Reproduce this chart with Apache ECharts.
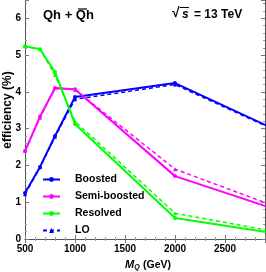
<!DOCTYPE html>
<html><head><meta charset="utf-8">
<script src="https://cdn.jsdelivr.net/npm/echarts@6/dist/echarts.min.js"></script>
<style>html,body{margin:0;padding:0;background:#fff}#c{width:266px;height:272px}</style>
</head><body><div id="c"></div>
<script>
var masses = [500, 650, 800, 1000, 2000, 3000];
var boosted = [1.25, 1.96, 2.8, 3.86, 4.24, 2.98];
var semiBoosted = [2.39, 3.33, 4.1, 4.07, 1.71, 0.81];
var resolved = [5.24, 5.16, 4.54, 3.13, 0.57, 0.15];
var boostedLO = [1.22, 1.95, 2.78, 3.8, 4.2, 2.96];
var semiBoostedLO = [2.4, 3.3, 4.12, 4.06, 1.9, 0.89];
var resolvedLO = [5.24, 5.16, 4.46, 3.2, 0.7, 0.2];
var xTicks = [500, 1000, 1500, 2000, 2500];
var yTicks = [0, 1, 2, 3, 4, 5, 6];

function pts(v){ return masses.map(function(m,i){ return [m, v[i]]; }); }
var FONT = '"Liberation Sans", Arial, sans-serif';
var chart = echarts.init(document.getElementById('c'), null, {renderer:'canvas'});
function solid(name, color, vals){
  return {name:name, type:'line', data:pts(vals), symbol:'circle', symbolSize:4,
    itemStyle:{color:color}, lineStyle:{color:color, width:2}, z:3, animation:false};
}
function dashed(name, color, vals){
  return {name:name, type:'line', data:pts(vals), symbol:'triangle', symbolSize:4,
    itemStyle:{color:color}, lineStyle:{color:color, width:1.5, type:[4,3]}, z:2, animation:false};
}
var axisCommon = {
  axisLine:{show:true, lineStyle:{color:'#555', width:1}},
  axisTick:{show:true, inside:true, length:4, lineStyle:{color:'#777'}},
  minorTick:{show:true, splitNumber:5, length:2, lineStyle:{color:'#999'}},
  splitLine:{show:false}
};
var xLabel = {fontFamily:FONT, fontSize:10, fontWeight:'bold', color:'#000', margin:5, showMaxLabel:false,
  formatter:function(v){ return xTicks.indexOf(v)>=0 ? String(v) : ''; }};
var yLabel = {fontFamily:FONT, fontSize:10, fontWeight:'bold', color:'#000', margin:4, showMaxLabel:false,
  formatter:function(v){ return yTicks.indexOf(v)>=0 ? String(v) : ''; }};
chart.setOption({
  animation:false,
  grid:{left:25, right:1, top:0, bottom:33, outerBoundsMode:'none', containLabel:false},
  legend:{
    data:[{name:'Boosted'},{name:'Semi-boosted'},{name:'Resolved'},{name:'LO'}],
    orient:'vertical', left:37, top:169, itemWidth:17, itemHeight:6, itemGap:6,
    textStyle:{fontFamily:FONT, fontSize:10.5, fontWeight:'bold', color:'#000', padding:[0,0,0,10]}
  },
  xAxis:[
    Object.assign({type:'value', min:500, max:2900, interval:500, position:'bottom', axisLabel:xLabel}, axisCommon),
    Object.assign({type:'value', min:500, max:2900, interval:500, position:'top', axisLabel:{show:false}}, axisCommon)
  ],
  yAxis:[
    Object.assign({type:'value', min:0, max:6.5, interval:1, position:'left', axisLabel:yLabel}, axisCommon),
    Object.assign({type:'value', min:0, max:6.5, interval:1, position:'right', axisLabel:{show:false}}, axisCommon)
  ],
  graphic:[
    {type:'text', left:43, top:9, style:{text:'Qh + Qh', font:'bold 13px '+FONT, fill:'#000'}},
    {type:'line', shape:{x1:78, y1:9, x2:87, y2:9}, style:{stroke:'#000', lineWidth:1.2}},
    {type:'text', left:172, top:6, style:{text:'\u221A', font:'bold 14px '+FONT, fill:'#000'}},
    {type:'line', shape:{x1:180, y1:7.5, x2:189, y2:7.5}, style:{stroke:'#000', lineWidth:1}},
    {type:'text', left:182, top:9, style:{text:'s', font:'italic bold 12px '+FONT, fill:'#000'}},
    {type:'text', left:194, top:9, style:{text:'= 13 TeV', font:'bold 12px '+FONT, fill:'#000'}},
    {type:'text', x:8, y:110, rotation:Math.PI/2,
      style:{text:'efficiency (%)', font:'bold 12px '+FONT, fill:'#000', textAlign:'center', textVerticalAlign:'middle'}},
    {type:'text', x:148, y:265,
      style:{text:'{i|M}{s|Q} {n|(GeV)}', textAlign:'center', textVerticalAlign:'middle',
        rich:{i:{font:'italic bold 11px '+FONT, fill:'#000'},
              s:{font:'italic bold 7px '+FONT, fill:'#000', padding:[5,0,0,0]},
              n:{font:'bold 10.5px '+FONT, fill:'#000'}}}}
  ],
  series:[
    dashed('LO', '#0000ff', boostedLO),
    dashed('Semi-boosted LO', '#ff00ff', semiBoostedLO),
    dashed('Resolved LO', '#00ff00', resolvedLO),
    solid('Boosted', '#0000ff', boosted),
    solid('Semi-boosted', '#ff00ff', semiBoosted),
    solid('Resolved', '#00ff00', resolved)
  ]
});
</script></body></html>
